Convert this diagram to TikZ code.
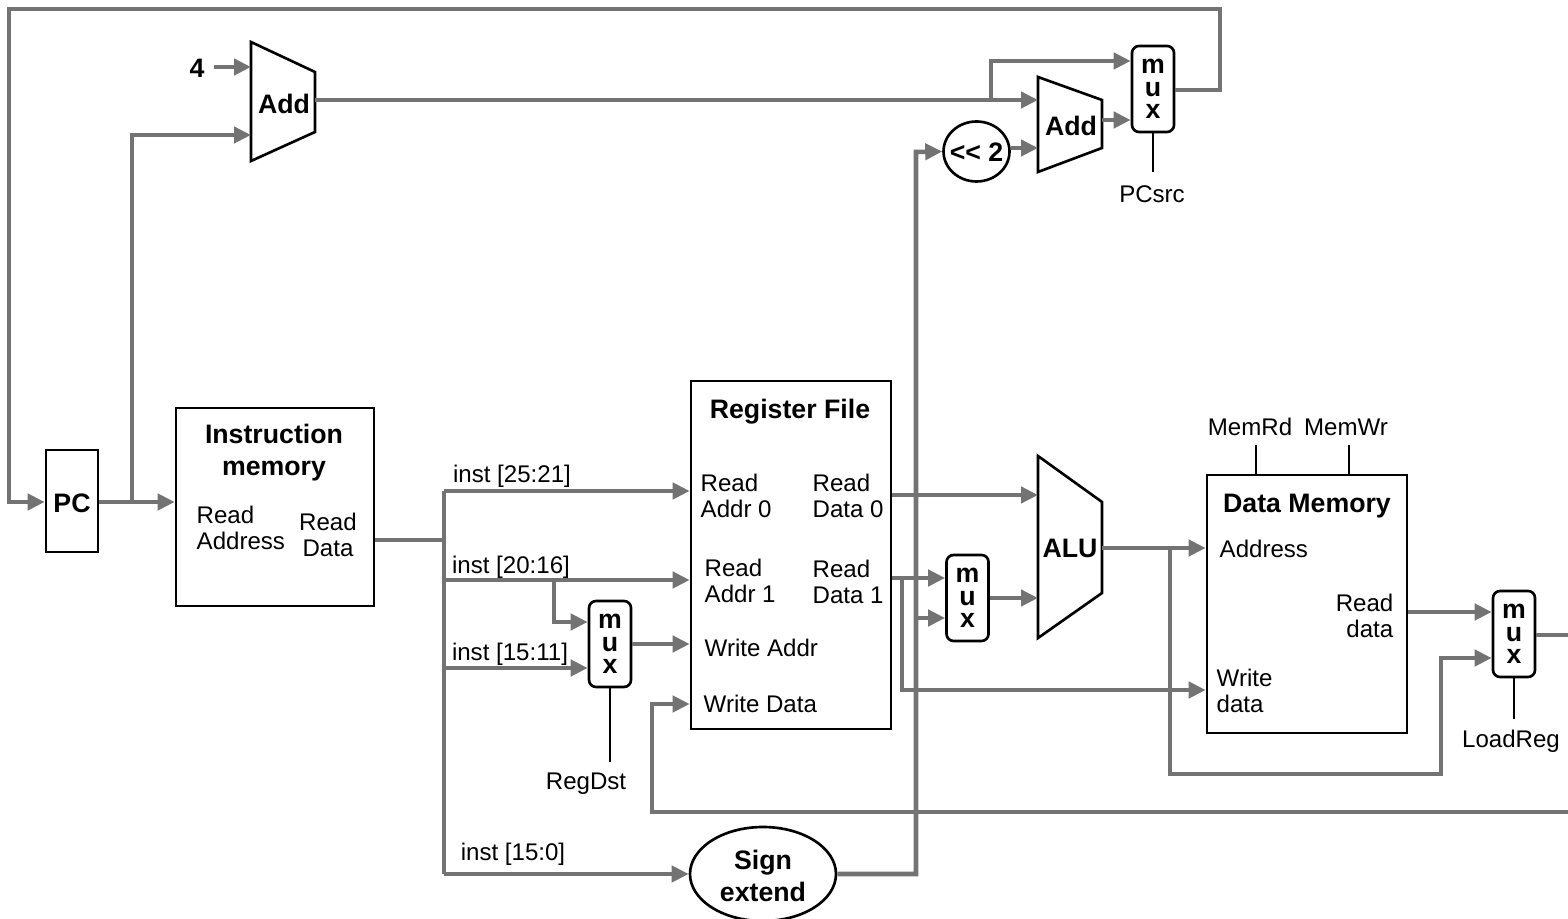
\documentclass[tikz,border=0pt]{standalone}
\usepackage{fontspec}
\setmainfont{Liberation Sans}
\usetikzlibrary{arrows.meta,shapes.geometric}
\definecolor{wiregray}{HTML}{737373}
\tikzset{
  blk/.style={rectangle,draw=black,fill=white,line width=.75pt,inner sep=0pt},
  mx/.style={rectangle,rounded corners=2pt,draw=black,fill=white,line width=.75pt,inner sep=0pt,
             minimum width=.42cm,minimum height=.86cm,align=center,font=\fontsize{7.6}{6.4}\selectfont\bfseries},
  oval/.style={ellipse,draw=black,fill=white,line width=.75pt,inner sep=0pt},
  trap/.style={draw=black,fill=white,line width=.75pt,line join=miter},
  wire/.style={draw=wiregray,line width=1.3pt},
  arr/.style={wire,-{Triangle[length=1.7mm,width=1.6mm]}},
  ctl/.style={draw=black,line width=.6pt},
  lb/.style={inner sep=0pt,font=\fontsize{6.85}{7.4}\selectfont,align=left},
  lbr/.style={inner sep=0pt,font=\fontsize{6.85}{7.4}\selectfont,align=right},
  tt/.style={inner sep=0pt,font=\fontsize{7.6}{9.1}\selectfont\bfseries,align=center},
}
\begin{document}
\begin{tikzpicture}
\useasboundingbox (0,0) rectangle (15.68,9.18);
% wires run underneath, so the blocks are drawn after their ports are known
\coordinate (addaNE) at (3.15,8.46); \coordinate (addaSE) at (3.15,7.86);
\coordinate (addaNW) at (2.51,8.76); \coordinate (addaSW) at (2.51,7.57);
\coordinate (addbNW) at (10.38,8.41); \coordinate (addbNE) at (11.02,8.18);
\coordinate (addbSE) at (11.02,7.70); \coordinate (addbSW) at (10.38,7.46);
\coordinate (aluNW) at (10.38,4.62); \coordinate (aluNE) at (11.02,4.16);
\coordinate (aluSE) at (11.02,3.25); \coordinate (aluSW) at (10.38,2.80);
% the blocks
\node[blk,minimum width=.52cm,minimum height=1.02cm] (pc) at (.72,4.17) {};
\node[blk,minimum width=1.98cm,minimum height=1.98cm] (imem) at (2.75,4.11) {};
\node[blk,minimum width=2cm,minimum height=3.48cm] (regs) at (7.91,3.63) {};
\node[blk,minimum width=2cm,minimum height=2.58cm] (dmem) at (13.07,3.14) {};
\node[mx] (muxpc) at (11.53,8.29) {m\\u\\x};
\node[mx] (muxdst) at (6.10,2.74) {m\\u\\x};
\node[mx] (muxalu) at (9.675,3.20) {m\\u\\x};
\node[mx] (muxreg) at (15.14,2.84) {m\\u\\x};
\node[oval,minimum width=.66cm,minimum height=.60cm] (shift) at (9.765,7.665) {};
\node[oval,minimum width=1.46cm,minimum height=.94cm] (sign) at (7.63,.44) {};
\draw[trap] (addaNW) -- (addaNE) -- (addaSE) -- (addaSW) -- cycle;
\draw[trap] (addbNW) -- (addbNE) -- (addbSE) -- (addbSW) -- cycle;
\draw[trap] (aluNW) -- (aluNE) -- (aluSE) -- (aluSW) -- cycle;
% titles and port names
\node[tt] (shiftt) at (9.765,7.66) {<{}< 2};
\node[tt] (signt) at (7.63,.42) {Sign\\extend};
\node[tt] (adda) at (2.84,8.14) {Add};
\node[tt] (addb) at (10.71,7.92) {Add};
\node[tt] (alu) at (10.70,3.70) {ALU};
\node[tt] (four) at (1.97,8.50) {4};
\node[tt] (pct) at (.72,4.15) {PC};
\node[tt] (imemt) at (2.74,4.65) {Instruction\\memory};
\node[tt] (regst) at (7.90,5.06) {Register File};
\node[tt] (dmemt) at (13.07,4.12) {Data Memory};
\node[lb,anchor=west] (raddr) at (1.96,3.90) {Read\\Address};
\node[lb,align=center] (rdata) at (3.28,3.83) {Read\\Data};
\node[lb] (inst) at (5.12,4.42) {inst [25:21]};
\node[lb] (instb) at (5.11,3.51) {inst [20:16]};
\node[lb] (instc) at (5.10,2.64) {inst [15:11]};
\node[lb] (instd) at (5.13,.64) {inst [15:0]};
\node[lb,anchor=west] (rao) at (7.00,4.22) {Read\\Addr 0};
\node[lb,anchor=west] (rdo) at (8.12,4.22) {Read\\Data 0};
\node[lb,anchor=west] (rai) at (7.04,3.37) {Read\\Addr 1};
\node[lb,anchor=west] (rdi) at (8.12,3.36) {Read\\Data 1};
\node[lb,anchor=west] (wa) at (7.04,2.70) {Write Addr};
\node[lb,anchor=west] (wd) at (7.03,2.14) {Write Data};
\node[lb,anchor=west] (addr) at (12.19,3.69) {Address};
\node[lbr,anchor=east] (rd) at (13.94,3.02) {Read\\data};
\node[lb,anchor=west] (wdm) at (12.16,2.27) {Write\\data};
\node[lb] (pcsrc) at (11.52,7.24) {PCsrc};
\node[lb] (regdst) at (5.86,1.34) {RegDst};
\node[lb] (loadreg) at (15.11,1.77) {LoadReg};
\node[lb] (memrd) at (12.50,4.91) {MemRd};
\node[lb] (memwr) at (13.46,4.91) {MemWr};
% wire junctions and free ends
\coordinate (pcfork) at (1.32,4.16);
\coordinate (addfork) at (9.91,8.18);
\coordinate (bus) at (4.44,3.78);
\coordinate (busa) at (4.44,4.27);
\coordinate (busb) at (4.44,3.38);
\coordinate (busc) at (4.44,2.50);
\coordinate (busd) at (4.44,.44);
\coordinate (dstfork) at (5.54,3.38);
\coordinate (rdfork) at (9.02,3.40);
\coordinate (signup) at (9.16,.44);
\coordinate (alufork) at (11.70,3.70);
\coordinate (fromreg) at (15.68,1.06);
\coordinate (tomem) at (15.68,2.83);
\coordinate (fourout) at (2.14,8.51);
% program counter loop
\draw[arr] (muxpc.east |- 0,8.28) -| (12.20,9.09) -| (.09,4.16) -- (pc.west |- pcfork);
\draw[arr] (pc.east |- pcfork) -- (imem.west |- pcfork);
\draw[arr] (pcfork) |- (addaSW |- 0,7.83);
\draw[arr] (fourout) -- (addaNW |- fourout);
\draw[arr] (addaNE |- addfork) -- (addbNW |- addfork);
\draw[arr] (addfork) |- (muxpc.west |- 0,8.57);
\draw[arr] (addbNE |- 0,7.98) -- (muxpc.west |- 0,7.98);
\draw[arr] (shift.east |- 0,7.70) -- (addbSW |- 0,7.70);
\draw[arr] (sign.east |- signup) -| (9.16,7.66) -- (shift.west);
% instruction bus
\draw[wire] (imem.east |- bus) -- (bus);
\draw[wire] (busa) -- (busd);
\draw[arr] (busa) -- (regs.west |- busa);
\draw[arr] (busb) -- (regs.west |- busb);
\draw[arr] (busc) -- (muxdst.west |- busc);
\draw[arr] (busd) -- (sign.west);
\draw[arr] (dstfork) |- (muxdst.west |- 0,2.96);
\draw[arr] (muxdst.east) -- (regs.west |- muxdst.east);
\draw[arr] (fromreg) -| (6.52,2.14) -- (regs.west |- 0,2.14);
% register file to ALU and data memory
\draw[arr] (regs.east |- 0,4.23) -- (aluNW |- 0,4.23);
\draw[arr] (regs.east |- rdfork) -- (muxalu.west |- rdfork);
\draw[arr] (9.16,3.00) -- (muxalu.west |- 0,3.00);
\draw[arr] (rdfork) |- (dmem.west |- 0,2.28);
\draw[arr] (muxalu.east) -- (aluSW |- muxalu.east);
\draw[arr] (aluNE |- alufork) -- (dmem.west |- alufork);
\draw[arr] (alufork) |- (14.41,1.44) |- (muxreg.west |- 0,2.60);
\draw[arr] (dmem.east |- 0,3.06) -- (muxreg.west |- 0,3.06);
\draw[wire] (muxreg.east |- tomem) -- (tomem);
% control lines
\draw[ctl] (muxpc.south) -- (muxpc.south |- 0,7.46);
\draw[ctl] (muxdst.south) -- (muxdst.south |- 0,1.56);
\draw[ctl] (muxreg.south) -- (muxreg.south |- 0,1.99);
\draw[ctl] (12.56,4.73) -- (12.56,4.43);
\draw[ctl] (13.49,4.73) -- (13.49,4.43);
\end{tikzpicture}
\end{document}
